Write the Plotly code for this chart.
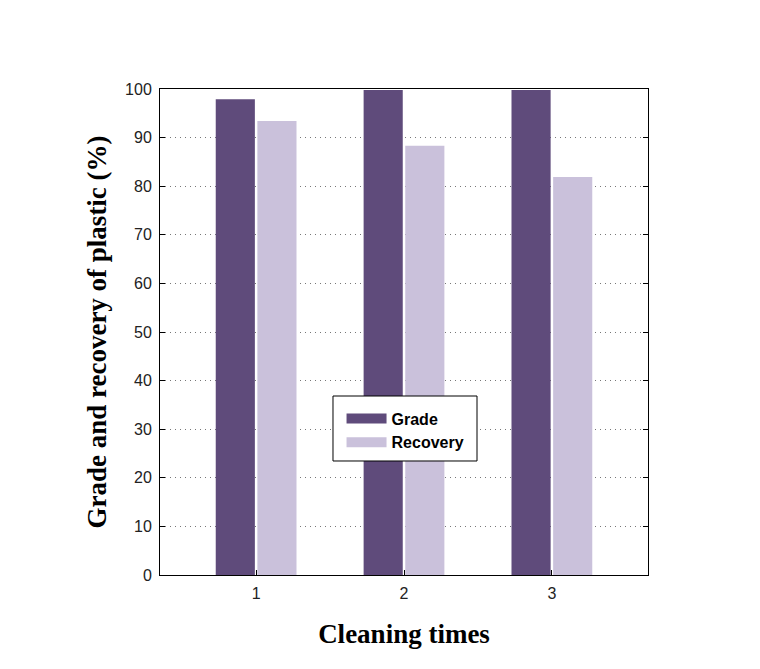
import plotly.graph_objects as go

categories = [1, 2, 3]
grade = [97.9, 99.8, 99.8]
recovery = [93.4, 88.3, 81.9]
series_names = ["Grade", "Recovery"]
colors = ["#5f4b7b", "#cac1db"]

fig = go.Figure()
fig.add_trace(go.Bar(x=categories, y=grade, name=series_names[0], marker_color=colors[0],
                     marker_line_width=0, showlegend=False))
fig.add_trace(go.Bar(x=categories, y=recovery, name=series_names[1], marker_color=colors[1],
                     marker_line_width=0, showlegend=False))
# legend entries with wide rectangular swatches
for nm, c in zip(series_names, colors):
    fig.add_trace(go.Scatter(x=[None], y=[None], mode="lines", name=nm,
                             line=dict(color=c, width=11)))

# legend frame
fig.add_shape(type="rect", xref="paper", yref="paper", x0=0.3545, x1=0.6496,
              y0=0.2346, y1=0.3683, line=dict(color="black", width=1),
              fillcolor="white", layer="above")

fig.update_layout(
    width=760, height=669,
    margin=dict(l=160, r=112, t=89, b=94),
    paper_bgcolor="white", plot_bgcolor="white",
    barmode="group", bargap=0.437, bargroupgap=0.06,
    font=dict(family="Liberation Sans, Arial", size=16, color="#222"),
    legend=dict(x=0.372, y=0.357, xanchor="left", yanchor="top",
                borderwidth=0, bgcolor="rgba(0,0,0,0)",
                font=dict(family="Liberation Sans, Arial", size=16, color="black",
                          weight="bold"),
                tracegroupgap=0, itemwidth=40),
    xaxis=dict(range=[0.35, 3.65], tickvals=categories, ticktext=[str(c) for c in categories],
               ticks="inside", ticklen=5, tickcolor="black", showline=True, linecolor="black",
               linewidth=1, mirror=True, showgrid=False, zeroline=False,
               ticklabelstandoff=4,
               title=dict(text="Cleaning times", standoff=22,
                          font=dict(family="Liberation Serif, Times New Roman", size=27,
                                    color="black", weight="bold"))),
    yaxis=dict(range=[0, 100], dtick=10, ticks="inside", ticklen=5, tickcolor="black",
               showline=True, linecolor="black", linewidth=1, mirror="ticks",
               showgrid=True, gridcolor="#777", griddash="1px,4px", gridwidth=1,
               zeroline=False, ticklabelstandoff=4,
               title=dict(text="Grade and recovery of plastic (%)", standoff=10,
                          font=dict(family="Liberation Serif, Times New Roman", size=27,
                                    color="black", weight="bold"))),
)

fig.write_html("out.html")
